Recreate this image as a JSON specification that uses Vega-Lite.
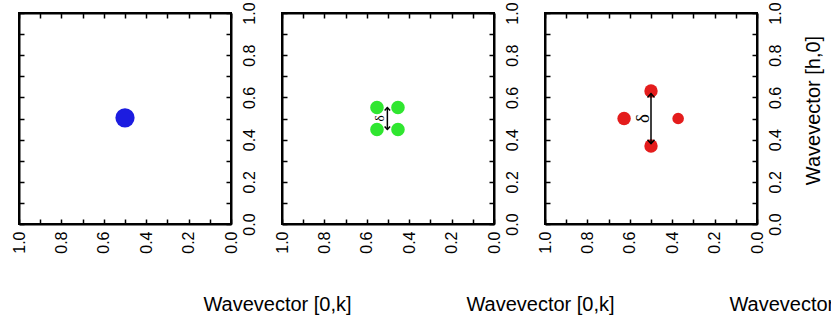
{
  "$schema": "https://vega.github.io/schema/vega-lite/v6.json",
  "background": "white",
  "padding": {"left": 10, "top": 0, "right": 0, "bottom": 0},
  "spacing": 51,
  "bounds": "flush",
  "datasets": {
    "peaks": [
      {"panel": 1, "k": 0.5, "h": 0.503, "intensity": 1},
      {"panel": 2, "k": 0.552, "h": 0.552, "intensity": 1},
      {"panel": 2, "k": 0.453, "h": 0.552, "intensity": 1},
      {"panel": 2, "k": 0.552, "h": 0.448, "intensity": 1},
      {"panel": 2, "k": 0.453, "h": 0.448, "intensity": 1},
      {"panel": 3, "k": 0.5, "h": 0.63, "intensity": 1},
      {"panel": 3, "k": 0.5, "h": 0.37, "intensity": 1},
      {"panel": 3, "k": 0.627, "h": 0.5, "intensity": 1},
      {"panel": 3, "k": 0.372, "h": 0.5, "intensity": 0.75}
    ],
    "arrows": [
      {"panel": 2, "k": 0.503, "top": 0.552, "bottom": 0.448, "lk": 0.539, "lh": 0.5, "label": "δ"},
      {"panel": 3, "k": 0.5, "top": 0.618, "bottom": 0.381, "lk": 0.54, "lh": 0.5, "label": "δ"}
    ]
  },
  "config": {
    "view": {"stroke": "black", "strokeWidth": 2},
    "font": "Liberation Sans",
    "axis": {
      "domainColor": "black", "domainWidth": 2,
      "tickColor": "black", "tickWidth": 1.5, "tickSize": -5,
      "labelColor": "black", "labelFontSize": 16, "labelFont": "Liberation Sans",
      "titleColor": "black", "titleFontSize": 20, "titleFontWeight": "normal", "titleFont": "Liberation Sans",
      "grid": false, "labelOverlap": false, "labelFlush": false, "labelBound": false
    }
  },
  "hconcat": [
    {
      "width": 212, "height": 211,
      "resolve": {"axis": {"x": "independent", "y": "independent"}},
      "layer": [
        {
          "data": {"name": "peaks"},
          "transform": [{"filter": "datum.panel == 1"}],
          "mark": {"type": "point", "shape": "circle", "filled": true, "opacity": 1, "size": 370, "color": "#1c1ce0"},
          "encoding": {
            "x": {"field": "k", "type": "quantitative", "scale": {"domain": [0, 1], "reverse": true, "nice": false},
              "axis": {"orient": "bottom", "values": [0,0.1,0.2,0.3,0.4,0.5,0.6,0.7,0.8,0.9,1], "labelExpr": "round(datum.value*10) % 2 == 0 ? format(datum.value, '.1f') : ''", "labelAngle": -90, "labelAlign": "right", "labelBaseline": "middle", "labelPadding": 12, "title": "Wavevector [0,k]", "titleX": 258, "titleY": 86, "titleBaseline": "alphabetic", "titleAlign": "center"}},
            "y": {"field": "h", "type": "quantitative", "scale": {"domain": [0, 1], "nice": false},
              "axis": {"orient": "right", "values": [0,0.1,0.2,0.3,0.4,0.5,0.6,0.7,0.8,0.9,1], "labelExpr": "round(datum.value*10) % 2 == 0 ? format(datum.value, '.1f') : ''", "labelAngle": -90, "labelAlign": "center", "labelBaseline": "top", "labelPadding": 15, "title": null}}
          }
        },
        {
          "data": {"name": "peaks"},
          "transform": [{"filter": "datum.panel == 1"}],
          "mark": {"type": "point", "opacity": 0},
          "encoding": {
            "x": {"field": "k", "type": "quantitative", "axis": {"orient": "top", "values": [0,0.1,0.2,0.3,0.4,0.5,0.6,0.7,0.8,0.9,1], "labels": false, "title": null}},
            "y": {"field": "h", "type": "quantitative", "axis": {"orient": "left", "values": [0,0.1,0.2,0.3,0.4,0.5,0.6,0.7,0.8,0.9,1], "labels": false, "title": null}}
          }
        }
      ]
    },
    {
      "width": 212, "height": 211,
      "resolve": {"axis": {"x": "independent", "y": "independent"}},
      "layer": [
        {
          "data": {"name": "peaks"},
          "transform": [{"filter": "datum.panel == 2"}],
          "mark": {"type": "point", "shape": "circle", "filled": true, "opacity": 1, "size": 185, "color": "#30e630"},
          "encoding": {
            "x": {"field": "k", "type": "quantitative", "scale": {"domain": [0, 1], "reverse": true, "nice": false},
              "axis": {"orient": "bottom", "values": [0,0.1,0.2,0.3,0.4,0.5,0.6,0.7,0.8,0.9,1], "labelExpr": "round(datum.value*10) % 2 == 0 ? format(datum.value, '.1f') : ''", "labelAngle": -90, "labelAlign": "right", "labelBaseline": "middle", "labelPadding": 12, "title": "Wavevector [0,k]", "titleX": 258, "titleY": 86, "titleBaseline": "alphabetic", "titleAlign": "center"}},
            "y": {"field": "h", "type": "quantitative", "scale": {"domain": [0, 1], "nice": false},
              "axis": {"orient": "right", "values": [0,0.1,0.2,0.3,0.4,0.5,0.6,0.7,0.8,0.9,1], "labelExpr": "round(datum.value*10) % 2 == 0 ? format(datum.value, '.1f') : ''", "labelAngle": -90, "labelAlign": "center", "labelBaseline": "top", "labelPadding": 15, "title": null}}
          }
        },
        {
          "data": {"name": "peaks"},
          "transform": [{"filter": "datum.panel == 2"}],
          "mark": {"type": "point", "opacity": 0},
          "encoding": {
            "x": {"field": "k", "type": "quantitative", "axis": {"orient": "top", "values": [0,0.1,0.2,0.3,0.4,0.5,0.6,0.7,0.8,0.9,1], "labels": false, "title": null}},
            "y": {"field": "h", "type": "quantitative", "axis": {"orient": "left", "values": [0,0.1,0.2,0.3,0.4,0.5,0.6,0.7,0.8,0.9,1], "labels": false, "title": null}}
          }
        },
        {
          "data": {"name": "arrows"},
          "transform": [{"filter": "datum.panel == 2"}],
          "mark": {"type": "rule", "color": "black", "strokeWidth": 1.5},
          "encoding": {
            "x": {"field": "k", "type": "quantitative", "axis": null},
            "y": {"field": "top", "type": "quantitative", "axis": null},
            "y2": {"field": "bottom"}
          }
        },
        {
          "data": {"name": "arrows"},
          "transform": [{"filter": "datum.panel == 2"}],
          "mark": {"type": "point", "shape": "M-1,1.1L0,0L1,1.1", "filled": false, "opacity": 1, "stroke": "black", "strokeWidth": 1.5, "size": 30},
          "encoding": {
            "x": {"field": "k", "type": "quantitative", "axis": null},
            "y": {"field": "top", "type": "quantitative", "axis": null}
          }
        },
        {
          "data": {"name": "arrows"},
          "transform": [{"filter": "datum.panel == 2"}],
          "mark": {"type": "point", "shape": "M-1,-1.1L0,0L1,-1.1", "filled": false, "opacity": 1, "stroke": "black", "strokeWidth": 1.5, "size": 30},
          "encoding": {
            "x": {"field": "k", "type": "quantitative", "axis": null},
            "y": {"field": "bottom", "type": "quantitative", "axis": null}
          }
        },
        {
          "data": {"name": "arrows"},
          "transform": [{"filter": "datum.panel == 2"}],
          "mark": {"type": "text", "angle": 270, "fontSize": 13, "font": "Liberation Serif", "color": "black", "align": "center", "baseline": "middle"},
          "encoding": {
            "x": {"field": "lk", "type": "quantitative", "axis": null},
            "y": {"field": "lh", "type": "quantitative", "axis": null},
            "text": {"field": "label"}
          }
        }
      ]
    },
    {
      "width": 212, "height": 211,
      "resolve": {"axis": {"x": "independent", "y": "independent"}},
      "layer": [
        {
          "data": {"name": "peaks"},
          "transform": [{"filter": "datum.panel == 3"}],
          "mark": {"type": "point", "shape": "circle", "filled": true, "opacity": 1, "color": "#e41c1c"},
          "encoding": {
            "x": {"field": "k", "type": "quantitative", "scale": {"domain": [0, 1], "reverse": true, "nice": false},
              "axis": {"orient": "bottom", "values": [0,0.1,0.2,0.3,0.4,0.5,0.6,0.7,0.8,0.9,1], "labelExpr": "round(datum.value*10) % 2 == 0 ? format(datum.value, '.1f') : ''", "labelAngle": -90, "labelAlign": "right", "labelBaseline": "middle", "labelPadding": 12, "title": "Wavevector [0,k]", "titleX": 258, "titleY": 86, "titleBaseline": "alphabetic", "titleAlign": "center"}},
            "y": {"field": "h", "type": "quantitative", "scale": {"domain": [0, 1], "nice": false},
              "axis": {"orient": "right", "values": [0,0.1,0.2,0.3,0.4,0.5,0.6,0.7,0.8,0.9,1], "labelExpr": "round(datum.value*10) % 2 == 0 ? format(datum.value, '.1f') : ''", "labelAngle": -90, "labelAlign": "center", "labelBaseline": "top", "labelPadding": 15, "title": "Wavevector [h,0]", "titleAngle": -90, "titleX": 62, "titleY": 97, "titleBaseline": "alphabetic", "titleAlign": "center"}},
            "size": {"field": "intensity", "type": "quantitative", "scale": {"domain": [0, 1], "range": [0, 180]}, "legend": null}
          }
        },
        {
          "data": {"name": "peaks"},
          "transform": [{"filter": "datum.panel == 3"}],
          "mark": {"type": "point", "opacity": 0},
          "encoding": {
            "x": {"field": "k", "type": "quantitative", "axis": {"orient": "top", "values": [0,0.1,0.2,0.3,0.4,0.5,0.6,0.7,0.8,0.9,1], "labels": false, "title": null}},
            "y": {"field": "h", "type": "quantitative", "axis": {"orient": "left", "values": [0,0.1,0.2,0.3,0.4,0.5,0.6,0.7,0.8,0.9,1], "labels": false, "title": null}}
          }
        },
        {
          "data": {"name": "arrows"},
          "transform": [{"filter": "datum.panel == 3"}],
          "mark": {"type": "rule", "color": "black", "strokeWidth": 1.5},
          "encoding": {
            "x": {"field": "k", "type": "quantitative", "axis": null},
            "y": {"field": "top", "type": "quantitative", "axis": null},
            "y2": {"field": "bottom"}
          }
        },
        {
          "data": {"name": "arrows"},
          "transform": [{"filter": "datum.panel == 3"}],
          "mark": {"type": "point", "shape": "M-1,1.1L0,0L1,1.1", "filled": false, "opacity": 1, "stroke": "black", "strokeWidth": 1.5, "size": 49},
          "encoding": {
            "x": {"field": "k", "type": "quantitative", "axis": null},
            "y": {"field": "top", "type": "quantitative", "axis": null}
          }
        },
        {
          "data": {"name": "arrows"},
          "transform": [{"filter": "datum.panel == 3"}],
          "mark": {"type": "point", "shape": "M-1,-1.1L0,0L1,-1.1", "filled": false, "opacity": 1, "stroke": "black", "strokeWidth": 1.5, "size": 49},
          "encoding": {
            "x": {"field": "k", "type": "quantitative", "axis": null},
            "y": {"field": "bottom", "type": "quantitative", "axis": null}
          }
        },
        {
          "data": {"name": "arrows"},
          "transform": [{"filter": "datum.panel == 3"}],
          "mark": {"type": "text", "angle": 270, "fontSize": 19, "font": "Liberation Serif", "color": "black", "align": "center", "baseline": "middle"},
          "encoding": {
            "x": {"field": "lk", "type": "quantitative", "axis": null},
            "y": {"field": "lh", "type": "quantitative", "axis": null},
            "text": {"field": "label"}
          }
        }
      ]
    }
  ]
}
